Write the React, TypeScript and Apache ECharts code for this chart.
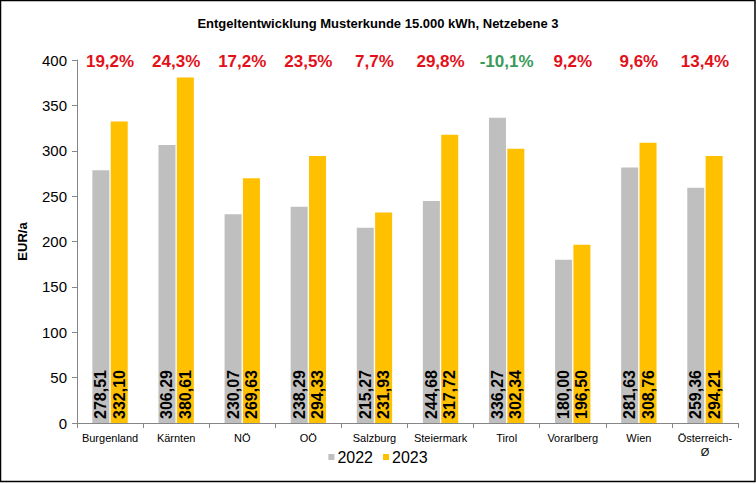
import React, { useEffect, useRef } from "react";
import * as echarts from "echarts";

const categories = ["Burgenland", "Kärnten", "NÖ", "OÖ", "Salzburg", "Steiermark", "Tirol", "Vorarlberg", "Wien", "Österreich-\nØ"];
const values2022 = [278.51, 306.29, 230.07, 238.29, 215.27, 244.68, 336.27, 180.0, 281.63, 259.36];
const values2023 = [332.1, 380.61, 269.63, 294.33, 231.93, 317.72, 302.34, 196.5, 308.76, 294.21];
const changePct = [19.2, 24.3, 17.2, 23.5, 7.7, 29.8, -10.1, 9.2, 9.6, 13.4];
const yTicks = { min: 0, max: 400, interval: 50 };

const fmt = (v: number) => v.toFixed(2).replace(".", ",");

export default function App() {
  const ref = useRef<HTMLDivElement>(null);
  useEffect(() => {
    document.body.style.margin = "0";
    const chart = echarts.init(ref.current!, undefined, { renderer: "svg" });
    const barLabel = {
      show: true,
      position: "insideBottom",
      rotate: 90,
      align: "left",
      verticalAlign: "middle",
      distance: 4,
      fontFamily: "Arial, Liberation Sans",
      fontWeight: "bold",
      fontSize: 16,
      color: "#000",
      formatter: (p: any) => fmt(p.value),
    };
    chart.setOption({
      animation: false,
      backgroundColor: "#fff",
      title: {
        text: "Entgeltentwicklung Musterkunde 15.000 kWh, Netzebene 3",
        left: "center",
        top: 12,
        textStyle: { fontFamily: "Arial, Liberation Sans", fontWeight: "bold", fontSize: 13, color: "#000" },
      },
      graphic: [
        {
          type: "rect",
          shape: { x: 0.5, y: 0.5, width: 754.5, height: 481 },
          style: { fill: "none", stroke: "#000", lineWidth: 1.5 },
          silent: true,
        },
      ],
      legend: {
        bottom: 14,
        left: "center",
        itemWidth: 6,
        itemHeight: 6,
        itemGap: 10,
        icon: "rect",
        data: ["2022", "2023"],
        textStyle: { fontFamily: "Arial, Liberation Sans", fontSize: 16, color: "#000", padding: [0, 0, 0, -2] },
      },
      grid: { left: 77, right: 18, top: 60, bottom: 61 },
      xAxis: {
        type: "category",
        data: categories,
        axisLine: { lineStyle: { color: "#868686" } },
        axisTick: { show: true, length: 5, lineStyle: { color: "#868686" } },
        axisLabel: {
          fontFamily: "Arial, Liberation Sans",
          fontSize: 11,
          color: "#000",
          margin: 8,
          interval: 0,
          lineHeight: 14,
        },
      },
      yAxis: {
        type: "value",
        min: yTicks.min,
        max: yTicks.max,
        interval: yTicks.interval,
        name: "EUR/a",
        nameLocation: "middle",
        nameGap: 48,
        nameTextStyle: { fontFamily: "Arial, Liberation Sans", fontWeight: "bold", fontSize: 13, color: "#000" },
        splitLine: { show: false },
        axisLine: { show: true, lineStyle: { color: "#868686" } },
        axisTick: { show: true, length: 5, lineStyle: { color: "#868686" } },
        axisLabel: { fontFamily: "Arial, Liberation Sans", fontSize: 15, color: "#000", margin: 10 },
      },
      series: [
        {
          name: "2022",
          type: "bar",
          data: values2022,
          barWidth: 17,
          barGap: "8%",
          itemStyle: { color: "#BFBFBF" },
          label: barLabel,
        },
        {
          name: "2023",
          type: "bar",
          data: values2023,
          barWidth: 17,
          barGap: "8%",
          itemStyle: { color: "#FFC000" },
          label: barLabel,
        },
        {
          name: "change",
          type: "scatter",
          data: changePct.map((v) => ({
            value: 398,
            label: { color: v < 0 ? "#3A9A58" : "#E3101A" },
          })),
          symbolSize: 0,
          itemStyle: { opacity: 1 },
          silent: true,
          label: {
            show: true,
            position: "inside",
            fontFamily: "Arial, Liberation Sans",
            fontWeight: "bold",
            fontSize: 17,
            formatter: (p: any) => changePct[p.dataIndex].toFixed(1).replace(".", ",") + "%",
          },
        },
      ],
    });
    return () => chart.dispose();
  }, []);
  return <div ref={ref} style={{ width: 756, height: 484, position: "absolute", left: 0, top: 0 }} />;
}
